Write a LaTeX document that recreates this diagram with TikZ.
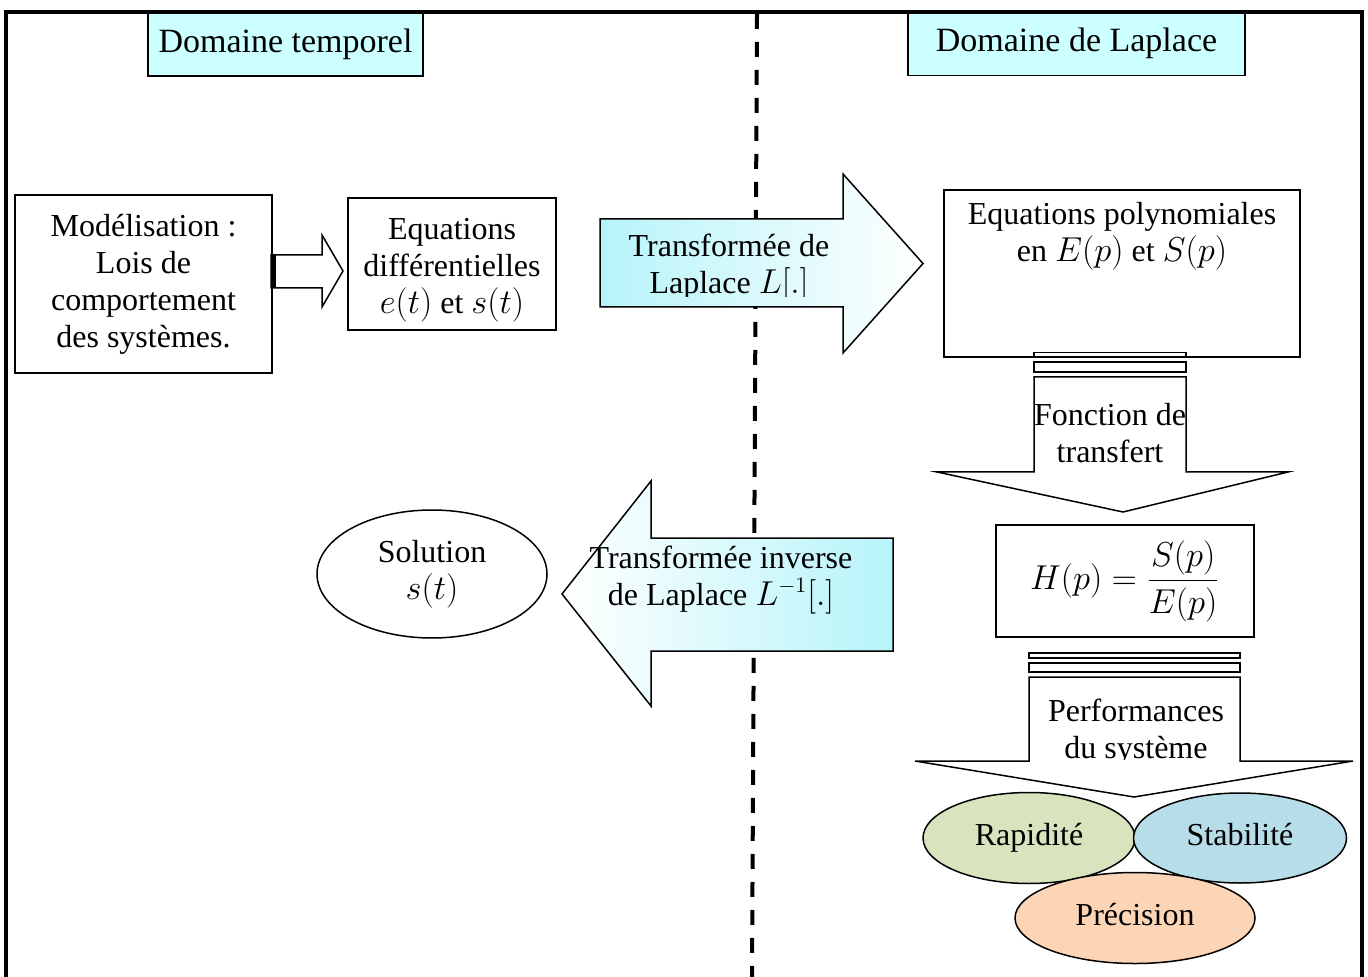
\documentclass[tikz,border=0pt]{standalone}
\usepackage{fontspec}
\setmainfont{Liberation Serif}
\usetikzlibrary{shapes.geometric}
\definecolor{cyanclair}{RGB}{204,255,255}
\definecolor{cyanfleche}{RGB}{182,244,249}
\definecolor{vertrap}{RGB}{215,228,189}
\definecolor{bleustab}{RGB}{183,221,232}
\definecolor{orangeprec}{RGB}{251,213,181}

\begin{document}
\begin{tikzpicture}[x=0.5pt,y=-0.5pt,font=\fontsize{16}{18.5}\selectfont]
    % Styles
    \tikzset{
        titre/.style={rectangle, draw, line width=0.6pt, fill=cyanclair, inner sep=0pt, font=\fontsize{17}{20}\selectfont},
        boite/.style={rectangle, draw, line width=0.75pt, inner sep=0pt, align=center},
        texte/.style={align=center, inner sep=0pt},
        bulle/.style={ellipse, draw, line width=0.75pt, inner sep=0pt, align=center},
        perfo/.style={bulle, text height=1.9ex, text depth=0.25ex},
        fleche/.style={draw, line width=0.75pt, line join=miter},
        bande/.style={draw, line width=0.75pt, fill=white},
        cadre/.style={line width=1.6pt},
        separation/.style={line width=2pt, dash pattern=on 7.5pt off 6.5pt}
    }
    \useasboundingbox (0,0) rectangle (1368,977);

    % Titres des deux domaines
    \node[titre, minimum width=137.5pt, minimum height=32pt] (temp) at (285.5,44) {Domaine temporel};
    \node[titre, minimum width=168.5pt, minimum height=32pt] (lapl) at (1076.5,43.5) {Domaine de Laplace};

    % Cadre et separation
    \draw[cadre] (6,977) -- (6,12) -- (1362,12) -- (1362,977);
    \draw[separation] (757,14) -- (752,977);

    % Domaine temporel
    \node[boite, minimum width=128.5pt, minimum height=89pt] (model) at (143.5,284) {Mod\'elisation :\\Lois de\\comportement\\des syst\`emes.};
    \node[boite, minimum width=104pt, minimum height=66pt] (diff) at (452,264) {};
    \node[texte] (difftxt) at (452,270) {Equations\\diff\'erentielles\\$e(t)$ et $s(t)$};
    \draw[fleche, fill=white] (271,255) -- (322,255) -- (322,235) -- (343,271) -- (322,307) -- (322,288) -- (271,288) -- cycle;
    \fill (271,255) rectangle (276,288);

    % Transformee de Laplace
    \draw[fleche, left color=cyanfleche, right color=white] (600,219) -- (843,219) -- (843,174) -- (923,263.5) -- (843,353) -- (843,307) -- (600,307) -- cycle;
    \begin{scope}
        \clip (600,219) rectangle (843,297);
        \node[texte] (tlap) at (729,268) {Transform\'ee de\\Laplace $L[.]$};
    \end{scope}

    % Domaine de Laplace
    \node[boite, minimum width=178pt, minimum height=83.5pt] (poly) at (1122,273.5) {};
    \node[texte] (polytxt) at (1122,236) {Equations polynomiales\\en $E(p)$ et $S(p)$};

    % Fonction de transfert
    \draw[bande] (1034,352.5) rectangle (1186,356.5);
    \draw[bande] (1034,362) rectangle (1186,372);
    \draw[fleche, fill=white] (1034,377) -- (1186,377) -- (1186,472) -- (1288,472) -- (1123,512) -- (937,472) -- (1034,472) -- cycle;
    \node[texte] (fdt) at (1110,433) {Fonction de\\transfert};
    \node[boite, minimum width=129pt, minimum height=56pt] (hp) at (1125,581) {$\displaystyle H(p)=\frac{S(p)}{E(p)}$};

    % Performances
    \draw[bande] (1029,653) rectangle (1240,658);
    \draw[bande] (1029,663) rectangle (1240,672);
    \draw[fleche, fill=white] (1029,677) -- (1240,677) -- (1240,761) -- (1353,761) -- (1134,797) -- (915,761) -- (1029,761) -- cycle;
    \begin{scope}
        \clip (1029,677) rectangle (1240,759);
        \node[texte] (perf) at (1136,732) {Performances\\du syst\`eme};
    \end{scope}
    \node[perfo, fill=vertrap, minimum width=106pt, minimum height=45.5pt] (rapid) at (1029,838) {Rapidit\'e};
    \node[perfo, fill=bleustab, minimum width=106.5pt, minimum height=45pt] (stab) at (1240,838) {Stabilit\'e};
    \node[perfo, fill=orangeprec, minimum width=120pt, minimum height=45.5pt] (prec) at (1135,918) {Pr\'ecision};

    % Transformee inverse
    \draw[fleche, left color=white, right color=cyanfleche] (893,538) -- (651,538) -- (651,481) -- (562,594) -- (651,706) -- (651,651) -- (893,651) -- cycle;
    \node[texte] (tinv) at (721,580) {Transform\'ee inverse\\de Laplace $L^{-1}[.]$};
    \node[bulle, minimum width=115pt, minimum height=64pt] (sol) at (432,574) {Solution\\$s(t)$};
\end{tikzpicture}
\end{document}
